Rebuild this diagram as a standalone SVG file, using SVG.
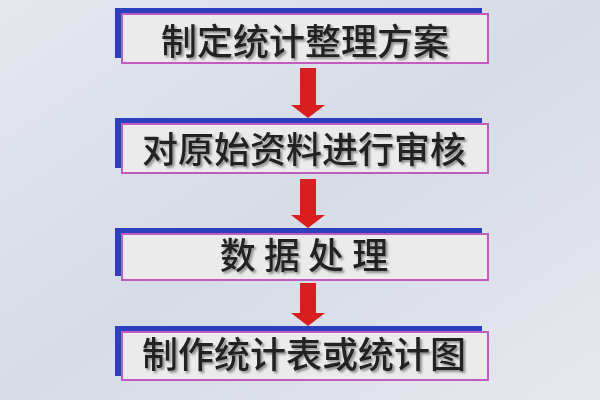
<svg xmlns="http://www.w3.org/2000/svg" width="600" height="400" viewBox="0 0 600 400">
<defs>
<linearGradient id="bg" x1="0" y1="0" x2="1" y2="1">
<stop offset="0" stop-color="#e4e7ee"/>
<stop offset="0.5" stop-color="#d6dbe6"/>
<stop offset="1" stop-color="#e6e8ee"/>
</linearGradient>
<filter id="ts" x="-10%" y="-20%" width="130%" height="150%">
<feDropShadow dx="2" dy="2" stdDeviation="1" flood-color="#777" flood-opacity="0.8"/>
</filter>
</defs>
<style>
.sh{fill:#2c3fbe}
.bx{fill:#ebebeb;stroke:#c05cc0;stroke-width:2}
.t{font-family:"Noto Sans CJK SC","Noto Sans CJK JP",sans-serif;font-size:36px;font-weight:500;fill:#222;text-anchor:middle;filter:url(#ts)}
.ar{fill:#d81e1e}
</style>
<rect width="600" height="400" fill="url(#bg)"/>
<g id="connectors">
<rect class="ar" x="300" y="68" width="16" height="38"/>
<path class="ar" d="M291 105 L325 105 L308 118 Z"/>
<rect class="ar" x="300" y="179" width="16" height="37"/>
<path class="ar" d="M291 215 L325 215 L308 228 Z"/>
<rect class="ar" x="300" y="283" width="16" height="31"/>
<path class="ar" d="M291 313 L325 313 L308 326 Z"/>
</g>
<g id="node1">
<rect class="sh" x="115" y="8" width="367" height="50"/>
<rect class="bx" x="122" y="14" width="366" height="49"/>
<text class="t" x="305" y="55">制定统计整理方案</text>
</g>
<g id="node2">
<rect class="sh" x="115" y="118" width="367" height="50"/>
<rect class="bx" x="122" y="124" width="366" height="49"/>
<text class="t" x="304" y="163">对原始资料进行审核</text>
</g>
<g id="node3">
<rect class="sh" x="115" y="228" width="367" height="48"/>
<rect class="bx" x="122" y="234" width="366" height="46"/>
<text class="t" x="304" y="269">数 据 处 理</text>
</g>
<g id="node4">
<rect class="sh" x="115" y="326" width="367" height="50"/>
<rect class="bx" x="122" y="332" width="366" height="48"/>
<text class="t" x="304" y="368">制作统计表或统计图</text>
</g>
</svg>
